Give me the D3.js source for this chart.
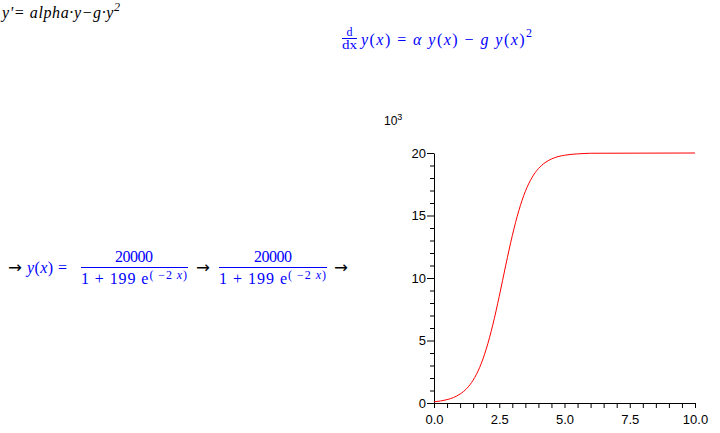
<!DOCTYPE html>
<html>
<head>
  <meta charset="utf-8">
  <title>Logistic solution</title>
  <script src="https://d3js.org/d3.v7.min.js"></script>
  <style>
    body { margin: 0; background: #fff; }
    .math { font-family: "Liberation Serif", "Times New Roman", serif; font-size: 16px; }
    .blue { fill: #0000ff; }
  </style>
</head>
<body>
<script>
// data: x values and y in thousands
var xs = [0, 0.25, 0.5, 0.75, 1, 1.25, 1.5, 1.75, 2, 2.25, 2.5, 2.75, 3, 3.25, 3.5,
          3.75, 4, 4.25, 4.5, 4.75, 5, 5.25, 5.5, 5.75, 6, 10];
var ys = [0.10, 0.16, 0.27, 0.44, 0.72, 1.15, 1.83, 2.85, 4.31, 6.23, 8.54, 11.03, 13.39, 15.39, 16.93,
          18.02, 18.75, 19.22, 19.52, 19.71, 19.82, 19.89, 19.93, 19.96, 19.98, 20.0];
var xTickLabels = ["0.0", "2.5", "5.0", "7.5", "10.0"];
var yTickLabels = ["0", "5", "10", "15", "20"];
var yUnit = "10";

var width = 720, height = 433;
var svg = d3.select("body").append("svg").attr("width", width).attr("height", height);

// ---- input line
var t1 = svg.append("text").attr("class", "math").attr("x", 2).attr("y", 18)
  .attr("textLength", 118).attr("lengthAdjust", "spacing")
  .style("font-style", "italic").style("font-size", "16px");
t1.append("tspan").text("y'= alpha\u00B7y\u2212g\u00B7y");
t1.append("tspan").attr("dy", -7).style("font-size", "12px").text("2");

// ---- ODE (blue)
var ode = svg.append("g").attr("class", "math blue");
ode.append("text").attr("x", 349.5).attr("y", 35.5).attr("text-anchor", "middle").style("font-size", "12px").text("d");
ode.append("line").attr("x1", 342).attr("x2", 357).attr("y1", 38.5).attr("y2", 38.5)
  .attr("stroke", "#0000ff").attr("stroke-width", 1);
ode.append("text").attr("x", 349.5).attr("y", 49).attr("text-anchor", "middle").style("font-size", "12px")
  .attr("textLength", 15).attr("lengthAdjust", "spacingAndGlyphs").text("dx");
var ot = ode.append("text").attr("x", 361).attr("y", 45)
  .attr("textLength", 171).attr("lengthAdjust", "spacing");
ot.append("tspan").style("font-style", "italic").text("y");
ot.append("tspan").text("(");
ot.append("tspan").style("font-style", "italic").text("x");
ot.append("tspan").text(") = ");
ot.append("tspan").style("font-style", "italic").text("\u03B1 y");
ot.append("tspan").text("(");
ot.append("tspan").style("font-style", "italic").text("x");
ot.append("tspan").text(")  \u2212  ");
ot.append("tspan").style("font-style", "italic").text("g y");
ot.append("tspan").text("(");
ot.append("tspan").style("font-style", "italic").text("x");
ot.append("tspan").text(")");
ot.append("tspan").attr("dy", -8).style("font-size", "12px").text("2");

// ---- solution line
function arrow(x) {
  svg.append("text").attr("x", x).attr("y", 273)
    .attr("font-family", "DejaVu Sans, sans-serif").attr("font-size", 16)
    .attr("textLength", 14).attr("lengthAdjust", "spacingAndGlyphs").text("\u2192");
}
function fraction(cx, x1, x2) {
  var g = svg.append("g").attr("class", "math blue");
  g.append("text").attr("x", cx).attr("y", 262).attr("text-anchor", "middle")
    .attr("textLength", 38).attr("lengthAdjust", "spacing").text("20000");
  g.append("line").attr("x1", x1).attr("x2", x2).attr("y1", 267.5).attr("y2", 267.5)
    .attr("stroke", "#0000ff");
  var d = g.append("text").attr("x", x1).attr("y", 284)
    .attr("textLength", x2 - x1 - 1).attr("lengthAdjust", "spacing");
  d.append("tspan").text("1 + 199 e");
  d.append("tspan").attr("dy", -5).style("font-size", "12px").text("( \u22122 ");
  d.append("tspan").style("font-size", "12px").style("font-style", "italic").text("x");
  d.append("tspan").style("font-size", "12px").text(")");
}
arrow(8);
var eq = svg.append("text").attr("class", "math blue").attr("x", 27).attr("y", 273)
  .attr("textLength", 40).attr("lengthAdjust", "spacing");
eq.append("tspan").style("font-style", "italic").text("y");
eq.append("tspan").text("(");
eq.append("tspan").style("font-style", "italic").text("x");
eq.append("tspan").text(") =");
fraction(134, 81, 188);
arrow(196);
fraction(273, 219, 327);
arrow(334);

// ---- plot
var x = d3.scaleLinear().domain([0, 10]).range([434, 695]);
var y = d3.scaleLinear().domain([0, 20]).range([403, 153]);
var plot = svg.append("g").attr("class", "plot");

var xAxis = d3.axisBottom(x).tickValues(d3.range(0, 10.01, 0.5)).tickSize(5).tickSizeOuter(0)
  .tickFormat(function(d) { var i = xTickLabels.indexOf(d.toFixed(1)); return i < 0 ? "" : xTickLabels[i]; });
var gx = plot.append("g").attr("transform", "translate(0," + y(0) + ")").call(xAxis);

var yAxis = d3.axisLeft(y).tickValues(d3.range(0, 21, 1)).tickSizeOuter(0)
  .tickFormat(function(d) { var i = yTickLabels.indexOf(String(d)); return i < 0 ? "" : yTickLabels[i]; });
var gy = plot.append("g").attr("transform", "translate(" + x(0) + ",0)").call(yAxis);
gy.selectAll(".tick line").attr("x2", function(d) { return d % 5 === 0 ? -7 : -4; });

plot.selectAll(".domain").attr("stroke", "#000");
plot.selectAll(".tick line").attr("stroke", "#000");
plot.selectAll(".tick text").attr("font-family", "Liberation Sans, Arial, sans-serif")
  .attr("font-size", 13).attr("fill", "#000");
gx.selectAll(".tick text").attr("y", 12);
gy.selectAll(".tick text").attr("x", -8);

var u = plot.append("text").attr("x", 384).attr("y", 125)
  .attr("font-family", "Liberation Sans, Arial, sans-serif").attr("font-size", 12);
u.append("tspan").text(yUnit);
u.append("tspan").attr("dy", -5).attr("font-size", 9).text("3");

var line = d3.line().x(function(d, i) { return x(xs[i]); }).y(function(d) { return y(d); })
  .curve(d3.curveMonotoneX);
plot.append("path").datum(ys).attr("d", line).attr("fill", "none").attr("stroke", "#ff0000").attr("stroke-width", 1);
</script>
</body>
</html>
